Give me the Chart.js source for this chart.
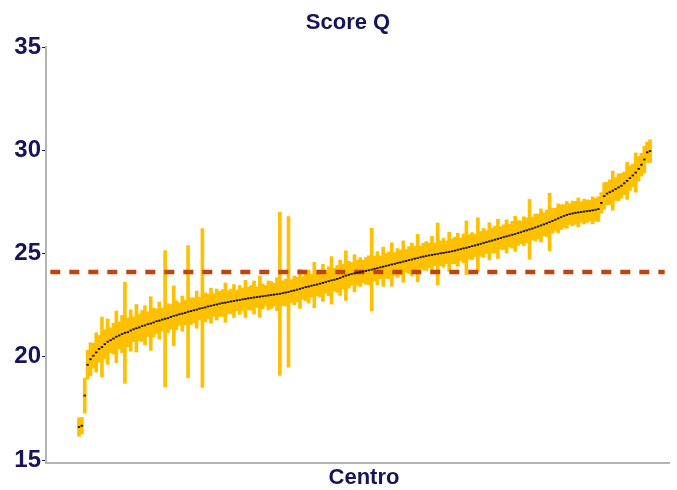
<!DOCTYPE html>
<html>
<head>
<meta charset="utf-8">
<title>Score Q</title>
<script src="https://cdn.jsdelivr.net/npm/chart.js@4.4.1/dist/chart.umd.min.js"></script>
<style>
    html, body { margin: 0; padding: 0; background: #ffffff; }
    #wrap { width: 677px; height: 490px; }
</style>
</head>
<body>
<div id="wrap"><canvas id="scoreChart" width="677" height="490"></canvas></div>
<script>
// Score Q by centre, sorted, with interval bars

// centres ordered by score (index = rank)
const scores = [
    16.60, 16.66, 18.12, 19.61, 19.88, 20.05, 20.21, 20.38, 20.47, 20.61,
    20.73, 20.80, 20.88, 20.97, 21.03, 21.10, 21.16, 21.19, 21.27, 21.33,
    21.38, 21.42, 21.49, 21.52, 21.58, 21.61, 21.66, 21.72, 21.75, 21.80,
    21.84, 21.87, 21.93, 21.98, 22.01, 22.06, 22.09, 22.13, 22.18, 22.21,
    22.25, 22.28, 22.33, 22.36, 22.39, 22.44, 22.47, 22.50, 22.53, 22.57,
    22.60, 22.62, 22.65, 22.68, 22.70, 22.73, 22.75, 22.78, 22.80, 22.83,
    22.85, 22.87, 22.89, 22.91, 22.93, 22.95, 22.97, 22.99, 23.01, 23.03,
    23.05, 23.08, 23.11, 23.14, 23.18, 23.21, 23.25, 23.29, 23.33, 23.37,
    23.40, 23.44, 23.47, 23.50, 23.54, 23.58, 23.62, 23.66, 23.70, 23.73,
    23.77, 23.82, 23.88, 23.93, 23.97, 24.01, 24.04, 24.07, 24.10, 24.13,
    24.16, 24.19, 24.22, 24.26, 24.29, 24.33, 24.36, 24.40, 24.43, 24.47,
    24.50, 24.54, 24.57, 24.61, 24.64, 24.68, 24.71, 24.75, 24.78, 24.82,
    24.85, 24.88, 24.91, 24.93, 24.96, 24.98, 25.01, 25.03, 25.06, 25.08,
    25.11, 25.14, 25.18, 25.21, 25.25, 25.28, 25.32, 25.36, 25.39, 25.43,
    25.47, 25.51, 25.55, 25.59, 25.63, 25.67, 25.71, 25.75, 25.79, 25.83,
    25.87, 25.91, 25.95, 25.99, 26.03, 26.08, 26.12, 26.17, 26.21, 26.26,
    26.31, 26.36, 26.41, 26.46, 26.52, 26.58, 26.64, 26.70, 26.76, 26.82,
    26.87, 26.91, 26.94, 26.97, 26.99, 27.01, 27.03, 27.05, 27.07, 27.09,
    27.12, 27.15, 27.45, 27.78, 27.90, 27.97, 28.04, 28.12, 28.20, 28.28,
    28.40, 28.52, 28.65, 28.78, 28.92, 29.10, 29.30, 29.55, 29.90, 29.96
];

// half width of each centre's interval
const halfWidth = [
    0.45, 0.40, 0.85, 0.70, 0.80, 0.60, 0.95, 0.65, 1.45, 0.70,
    1.10, 0.60, 0.75, 1.25, 0.65, 0.90, 2.45, 0.70, 1.00, 0.60,
    1.15, 0.65, 0.75, 0.95, 0.60, 1.30, 0.70, 0.60, 0.90, 0.55,
    3.30, 0.70, 0.60, 1.45, 0.70, 0.55, 0.85, 0.60, 3.20, 0.65,
    0.60, 0.90, 0.55, 3.85, 0.70, 0.60, 0.85, 0.55, 0.75, 0.60,
    0.65, 0.95, 0.55, 0.60, 0.80, 0.50, 0.70, 0.55, 0.90, 0.55,
    0.60, 0.80, 0.50, 1.00, 0.60, 0.50, 0.70, 0.65, 0.55, 0.80,
    3.95, 0.60, 0.65, 3.65, 0.55, 0.70, 0.60, 0.95, 0.55, 0.65,
    0.80, 0.55, 1.10, 0.55, 0.65, 0.90, 0.55, 0.70, 1.15, 0.55,
    0.65, 0.85, 0.60, 1.20, 0.65, 0.55, 0.90, 0.60, 0.70, 0.55,
    0.65, 0.70, 2.00, 0.60, 0.80, 0.55, 0.95, 0.60, 0.65, 1.05,
    0.55, 0.70, 0.60, 1.00, 0.55, 0.65, 0.80, 0.60, 1.15, 0.55,
    0.65, 0.70, 0.60, 0.90, 0.55, 1.50, 0.60, 0.70, 0.55, 0.95,
    0.60, 0.65, 0.80, 0.55, 0.70, 1.30, 0.60, 0.65, 0.55, 1.30,
    0.60, 0.70, 0.55, 0.90, 0.60, 0.65, 0.95, 0.55, 0.60, 0.80,
    0.55, 0.65, 0.85, 0.60, 0.55, 0.70, 0.60, 1.45, 0.55, 0.65,
    0.60, 0.80, 0.55, 0.65, 1.40, 0.60, 0.55, 0.70, 0.60, 0.55,
    0.65, 0.50, 0.60, 0.55, 0.70, 0.50, 0.60, 0.55, 0.50, 0.65,
    0.55, 0.60, 0.50, 0.65, 0.55, 0.60, 0.95, 0.55, 0.65, 0.60,
    0.55, 0.90, 0.60, 0.55, 0.95, 0.60, 0.55, 0.65, 0.50, 0.55
];

// overall reference value (dashed line)
const overallScore = 24.1;

const yTicks = [15, 20, 25, 30, 35];
const chartTitle = 'Score Q';
const xTitle = 'Centro';

const NAVY = '#15145c';
const GOLD = '#ffc000';
const RUST = '#c0440c';
const FONT = '"Liberation Sans", Arial, sans-serif';

// x range leaves some room on both sides of the first/last centre
const xMin = -11.5;
const xMax = scores.length - 1 + 6.6;

const barData = scores.map((s, i) => ({ x: i, y: [s - halfWidth[i], s + halfWidth[i]] }));
const pointData = scores.map((s, i) => ({ x: i, y: s }));
const refData = [{ x: xMin + 1.5, y: overallScore }, { x: xMax - 1.5, y: overallScore }];

// titles drawn by hand so they sit where the original puts them
const titlesPlugin = {
    id: 'titles',
    afterDraw(chart) {
        const ctx = chart.ctx;
        ctx.save();
        ctx.fillStyle = NAVY;
        ctx.font = 'bold 22px ' + FONT;
        ctx.textAlign = 'center';
        ctx.textBaseline = 'middle';
        ctx.fillText(chartTitle, 348, 23);
        ctx.fillText(xTitle, 364, 478);
        ctx.restore();
    }
};

new Chart(document.getElementById('scoreChart').getContext('2d'), {
    type: 'bar',
    data: {
        datasets: [
            {
                type: 'line',
                data: pointData,
                showLine: false,
                pointStyle: 'line',
                pointRadius: 1.2,
                pointBorderWidth: 1.8,
                pointBorderColor: '#111111',
                pointBackgroundColor: '#111111',
                order: 1
            },
            {
                type: 'line',
                data: refData,
                borderColor: RUST,
                borderWidth: 4.5,
                borderDash: [10, 9],
                pointRadius: 0,
                fill: false,
                order: 2
            },
            {
                type: 'bar',
                data: barData,
                backgroundColor: GOLD,
                borderWidth: 0,
                borderSkipped: false,
                barThickness: 3,
                order: 3
            }
        ]
    },
    options: {
        responsive: false,
        animation: false,
        devicePixelRatio: 1,
        layout: { padding: { top: 47, right: 8, bottom: 0, left: 0 } },
        plugins: {
            legend: { display: false },
            tooltip: { enabled: false },
            title: { display: false }
        },
        scales: {
            x: {
                type: 'linear',
                offset: false,
                min: xMin,
                max: xMax,
                grid: { display: false },
                border: { display: true, color: '#b4b4b4', width: 2 },
                ticks: { display: false },
                afterFit(scale) { scale.height = 27; }
            },
            y: {
                min: 14.855,
                max: 35,
                afterBuildTicks(scale) {
                    scale.ticks = yTicks.map(v => ({ value: v }));
                },
                grid: {
                    display: true,
                    drawOnChartArea: false,
                    drawTicks: true,
                    tickLength: 4,
                    color: NAVY,
                    lineWidth: 1
                },
                border: { display: true, color: '#b4b4b4', width: 2 },
                ticks: {
                    color: NAVY,
                    padding: 1,
                    font: { family: FONT, size: 24, weight: 'bold' }
                },
                afterFit(scale) { scale.width = 46; }
            }
        }
    },
    plugins: [titlesPlugin]
});
</script>
</body>
</html>
